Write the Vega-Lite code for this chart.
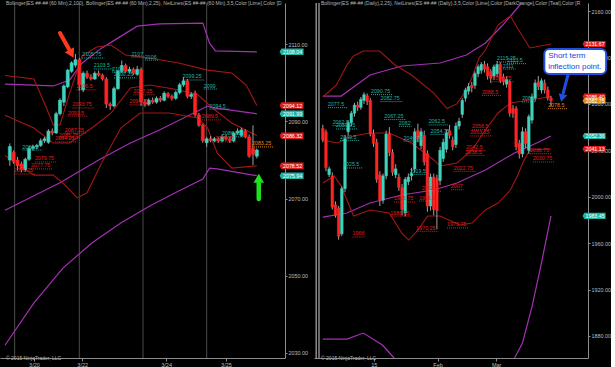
{
"$schema":"https://vega.github.io/schema/vega-lite/v6.json",
"background":"#000000",
"padding":0,
"bounds":"flush",
"spacing":29,
"config":{"view":{"stroke":null},"axis":{"labelFont":"Liberation Sans","labelFontSize":5.4,"labelColor":"#bdbdbd","domainColor":"#8c8c8c","tickColor":"#8c8c8c","tickSize":2,"labelPadding":1,"grid":false,"labelOverlap":false,"labelFlush":false,"labelBound":false},"text":{"font":"Liberation Sans"}},
"datasets":{
"lsess":[{"x":1.25},{"x":18},{"x":34.5},{"x":51}],
"lc":[
{"i":0,"o":2080,"h":2084.3,"l":2078.5,"c":2083.5},{"i":1,"o":2082,"h":2082.5,"l":2079,"c":2079.5},{"i":2,"o":2080,"h":2080.8,"l":2077.3,"c":2078.5},{"i":3,"o":2079,"h":2079.6,"l":2076.8,"c":2077.5},{"i":4,"o":2077.5,"h":2080.6,"l":2077,"c":2080.2},{"i":5,"o":2080.2,"h":2083.6,"l":2079.8,"c":2083},{"i":6,"o":2083,"h":2084,"l":2082.4,"c":2083.5},{"i":7,"o":2083.4,"h":2084.2,"l":2082.8,"c":2083.8},{"i":8,"o":2083.8,"h":2085.6,"l":2083.4,"c":2085},{"i":9,"o":2085,"h":2086,"l":2084.4,"c":2085.5},{"i":10,"o":2084.6,"h":2088,"l":2084.2,"c":2087.5},{"i":11,"o":2087.5,"h":2088.2,"l":2086.4,"c":2087},{"i":12,"o":2087,"h":2092.5,"l":2086.8,"c":2092},{"i":13,"o":2092,"h":2096,"l":2091.5,"c":2095.5},{"i":14,"o":2095,"h":2099.6,"l":2094,"c":2099.2},{"i":15,"o":2099,"h":2103.6,"l":2098.6,"c":2103.3},{"i":16,"o":2103,"h":2105.6,"l":2102.6,"c":2105.2},{"i":17,"o":2104.6,"h":2107.5,"l":2104,"c":2106},{"i":18,"o":2106,"h":2106.5,"l":2098,"c":2099.5},{"i":19,"o":2098.2,"h":2103,"l":2097.6,"c":2102.5},{"i":20,"o":2102.5,"h":2103.2,"l":2101,"c":2101.5},{"i":21,"o":2101.5,"h":2102.2,"l":2100.6,"c":2101},{"i":22,"o":2101,"h":2103,"l":2100.8,"c":2102.5},{"i":23,"o":2102.5,"h":2103.2,"l":2101.6,"c":2102},{"i":24,"o":2102,"h":2102.4,"l":2100.6,"c":2101},{"i":25,"o":2101,"h":2101.5,"l":2093.5,"c":2094.5},{"i":26,"o":2094.5,"h":2095,"l":2093,"c":2094},{"i":27,"o":2094,"h":2099,"l":2093.6,"c":2098.5},{"i":28,"o":2098.5,"h":2103.4,"l":2098.2,"c":2103},{"i":29,"o":2103,"h":2105.8,"l":2102.6,"c":2104.5},{"i":30,"o":2104.5,"h":2105,"l":2102.6,"c":2103},{"i":31,"o":2103,"h":2104.2,"l":2102.4,"c":2103.5},{"i":32,"o":2103.5,"h":2104,"l":2102,"c":2102.5},{"i":33,"o":2102.2,"h":2104.4,"l":2101.8,"c":2103.5},{"i":34,"o":2103.5,"h":2104,"l":2094,"c":2095},{"i":35,"o":2095,"h":2095.8,"l":2093.8,"c":2094.5},{"i":36,"o":2094.5,"h":2096,"l":2094,"c":2095.5},{"i":37,"o":2095.5,"h":2096.2,"l":2094.6,"c":2095},{"i":38,"o":2095,"h":2096.5,"l":2094.6,"c":2096},{"i":39,"o":2096,"h":2096.6,"l":2095,"c":2095.5},{"i":40,"o":2095.5,"h":2097.8,"l":2095.2,"c":2097.3},{"i":41,"o":2097.2,"h":2097.6,"l":2096,"c":2096.5},{"i":42,"o":2096.5,"h":2097,"l":2095.4,"c":2096},{"i":43,"o":2096,"h":2098,"l":2095.6,"c":2097.5},{"i":44,"o":2097.5,"h":2100,"l":2097,"c":2099.5},{"i":45,"o":2099.5,"h":2101.5,"l":2099,"c":2100.5},{"i":46,"o":2100.5,"h":2101,"l":2096,"c":2096.5},{"i":47,"o":2096.5,"h":2097.6,"l":2095.8,"c":2097},{"i":48,"o":2097.4,"h":2098,"l":2091.2,"c":2091.7},{"i":49,"o":2091.7,"h":2092.2,"l":2088.6,"c":2089},{"i":50,"o":2089,"h":2089.4,"l":2084.5,"c":2085},{"i":51,"o":2084.5,"h":2086,"l":2083.4,"c":2085.5},{"i":52,"o":2085.5,"h":2086.2,"l":2084.6,"c":2085},{"i":53,"o":2085,"h":2086,"l":2084.6,"c":2085.5},{"i":54,"o":2085.5,"h":2086,"l":2084.5,"c":2085},{"i":55,"o":2085,"h":2086.6,"l":2084.6,"c":2086},{"i":56,"o":2086,"h":2086.6,"l":2085,"c":2085.5},{"i":57,"o":2085.5,"h":2086,"l":2084.4,"c":2085},{"i":58,"o":2085,"h":2087.4,"l":2084.6,"c":2087},{"i":59,"o":2087,"h":2088.2,"l":2086.6,"c":2087.5},{"i":60,"o":2086.4,"h":2088.4,"l":2086,"c":2087.8},{"i":61,"o":2087.5,"h":2088,"l":2085.6,"c":2086},{"i":62,"o":2086,"h":2086.6,"l":2080.6,"c":2081},{"i":63,"o":2083,"h":2089,"l":2078.7,"c":2081.5},{"i":64,"o":2081,"h":2083,"l":2080.4,"c":2082.6}],
"lbb100":[
{"s":"u","i":-1.25,"p":2099.7},{"s":"u","i":11.25,"p":2099.2},{"s":"u","i":15.5,"p":2100.75},{"s":"u","i":18.75,"p":2105.15},{"s":"u","i":23.75,"p":2109.0},{"s":"u","i":28,"p":2111.6},{"s":"u","i":33,"p":2114.7},{"s":"u","i":38.75,"p":2115.3},{"s":"u","i":50,"p":2115.5},{"s":"u","i":51.75,"p":2110.3},{"s":"u","i":53.25,"p":2108.3},{"s":"u","i":64,"p":2108.04},
{"s":"m","i":-1.25,"p":2067.0},{"s":"m","i":13,"p":2074.1},{"s":"m","i":23,"p":2080.0},{"s":"m","i":31.25,"p":2084.4},{"s":"m","i":38.75,"p":2087.8},{"s":"m","i":51.25,"p":2094.0},{"s":"m","i":53,"p":2093.5},{"s":"m","i":64,"p":2091.99},
{"s":"l","i":-1.25,"p":2032.0},{"s":"l","i":6.25,"p":2043.0},{"s":"l","i":13.75,"p":2052.0},{"s":"l","i":21.25,"p":2058.5},{"s":"l","i":28.75,"p":2063.7},{"s":"l","i":36.25,"p":2068.1},{"s":"l","i":43.75,"p":2072.0},{"s":"l","i":50,"p":2075.1},{"s":"l","i":51.75,"p":2077.9},{"s":"l","i":53.75,"p":2077.7},{"s":"l","i":64,"p":2075.94}],
"lbb25":[
{"s":"u","i":-1.25,"p":2101.9},{"s":"u","i":6.25,"p":2101.0},{"s":"u","i":9.5,"p":2093.5},{"s":"u","i":11.25,"p":2089.1},{"s":"u","i":13,"p":2089.1},{"s":"u","i":15.5,"p":2097.4},{"s":"u","i":18.75,"p":2107.0},{"s":"u","i":22.5,"p":2109.3},{"s":"u","i":26.25,"p":2109.8},{"s":"u","i":30,"p":2107.2},{"s":"u","i":36.25,"p":2106.45},{"s":"u","i":43.75,"p":2105.15},{"s":"u","i":51.25,"p":2103.3},{"s":"u","i":57.5,"p":2102.55},{"s":"u","i":61.25,"p":2099.45},{"s":"u","i":64,"p":2094.12},
{"s":"m","i":-1.25,"p":2091.6},{"s":"m","i":6.25,"p":2088.3},{"s":"m","i":11.25,"p":2084.4},{"s":"m","i":15.5,"p":2084.4},{"s":"m","i":21.25,"p":2088.3},{"s":"m","i":26.25,"p":2092.2},{"s":"m","i":31.25,"p":2098.7},{"s":"m","i":36.25,"p":2099.45},{"s":"m","i":42.5,"p":2098.4},{"s":"m","i":48.75,"p":2096.9},{"s":"m","i":52.5,"p":2093.5},{"s":"m","i":57.5,"p":2089.6},{"s":"m","i":64,"p":2086.32},
{"s":"l","i":-1.25,"p":2081.2},{"s":"l","i":6.25,"p":2076.1},{"s":"l","i":11.25,"p":2076.1},{"s":"l","i":13.75,"p":2074.05},{"s":"l","i":17.5,"p":2070.2},{"s":"l","i":20,"p":2071.5},{"s":"l","i":23.75,"p":2079.2},{"s":"l","i":28.75,"p":2088.3},{"s":"l","i":33.75,"p":2092.2},{"s":"l","i":41.25,"p":2092.2},{"s":"l","i":48.75,"p":2090.9},{"s":"l","i":51.25,"p":2088.3},{"s":"l","i":53.75,"p":2081.8},{"s":"l","i":57.5,"p":2077.9},{"s":"l","i":64,"p":2078.52}],
"llab":[
{"i":18.75,"x2":24.5,"p":2106.45,"t":"2105.75","k":"hi"},{"i":21.75,"x2":27,"p":2103.6,"t":"2103.5","k":"hi"},{"i":26.5,"x2":30,"p":2102.8,"t":"2102","k":"hi"},{"i":27,"x2":32.8,"p":2101.3,"t":"2100.25","k":"hi"},{"i":31.5,"x2":35,"p":2106.7,"t":"2107","k":"hi"},{"i":35,"x2":38.5,"p":2105.9,"t":"2106","k":"hi"},{"i":44.75,"x2":50.5,"p":2100.75,"t":"2099.25","k":"hi"},{"i":50.25,"x2":53.75,"p":2098.4,"t":"2099","k":"hi"},{"i":51.75,"x2":57,"p":2093.2,"t":"2094.5","k":"hi"},{"i":55,"x2":60.75,"p":2086,"t":"2086.25","k":"hi"},{"i":3.25,"x2":8.5,"p":2082.6,"t":"2081.5","k":"hi"},
{"i":17.25,"x2":22.5,"p":2098.2,"t":"2096.5","k":"lo"},{"i":16.25,"x2":22,"p":2093.5,"t":"2093.75","k":"lo"},{"i":15,"x2":20.25,"p":2091.4,"t":"2091.5","k":"lo"},{"i":14.25,"x2":20,"p":2087,"t":"2087.25","k":"lo"},{"i":12.75,"x2":18.5,"p":2085.7,"t":"2085.75","k":"lo"},{"i":11.75,"x2":17.5,"p":2084.7,"t":"2084.25","k":"lo"},{"i":6.5,"x2":12.25,"p":2079.5,"t":"2079.75","k":"lo"},{"i":5.5,"x2":11.25,"p":2077.7,"t":"2077.75","k":"lo"},{"i":1,"x2":6.75,"p":2076.4,"t":"2076.25","k":"lo"},{"i":32,"x2":37.75,"p":2096.9,"t":"2097.25","k":"lo"},{"i":31,"x2":36.75,"p":2094.3,"t":"2094.25","k":"lo"},{"i":49.75,"x2":55,"p":2090.4,"t":"2089.5","k":"lo"},{"i":53.25,"x2":59,"p":2084.7,"t":"2083.75","k":"lo"},{"i":62.75,"x2":68.5,"p":2083.4,"t":"2083.25","k":"last"}],
"ltags":[{"p":2108.04,"t":"2108.04","k":"bb100"},{"p":2094.12,"t":"2094.12","k":"bb25"},{"p":2091.99,"t":"2091.99","k":"bb100"},{"p":2086.32,"t":"2086.32","k":"bb25"},{"p":2078.52,"t":"2078.52","k":"bb25"},{"p":2075.94,"t":"2075.94","k":"bb100"}],
"rc":[
{"i":0,"o":2059,"h":2062,"l":2047,"c":2049},{"i":1,"o":2056,"h":2058,"l":2022,"c":2025},{"i":2,"o":2019,"h":2026,"l":2017,"c":2024},{"i":3,"o":2018,"h":2021,"l":1989,"c":1991},{"i":4,"o":1993,"h":1996,"l":1982,"c":1984},{"i":5,"o":1990,"h":1992,"l":1963,"c":1966},{"i":6,"o":1968,"h":2009,"l":1966,"c":2007},{"i":7,"o":2007,"h":2053,"l":2004,"c":2050},{"i":8,"o":2056,"h":2066,"l":2053,"c":2064},{"i":9,"o":2064,"h":2074,"l":2061,"c":2072},{"i":10,"o":2072,"h":2081,"l":2069,"c":2079},{"i":11,"o":2079,"h":2082,"l":2074,"c":2077},{"i":12,"o":2077,"h":2086,"l":2075,"c":2084},{"i":13,"o":2083,"h":2090,"l":2080,"c":2088},{"i":14,"o":2087,"h":2089,"l":2079,"c":2082},{"i":15,"o":2083,"h":2085,"l":2052,"c":2054},{"i":16,"o":2054,"h":2058,"l":2043,"c":2046},{"i":17,"o":2047,"h":2050,"l":2012,"c":2015},{"i":18,"o":2019,"h":2022,"l":1992,"c":1997},{"i":19,"o":1997,"h":2020,"l":1994,"c":2018},{"i":20,"o":2018,"h":2057,"l":2015,"c":2054},{"i":21,"o":2054,"h":2060,"l":2035,"c":2038},{"i":22,"o":2038,"h":2041,"l":2018,"c":2021},{"i":23,"o":2019,"h":2028,"l":2016,"c":2024},{"i":24,"o":2017,"h":2020,"l":2005,"c":2008},{"i":25,"o":2008,"h":2011,"l":1984,"c":1989},{"i":26,"o":1986,"h":2017,"l":1983,"c":2015},{"i":27,"o":2013,"h":2020,"l":2010,"c":2017},{"i":28,"o":2018,"h":2025,"l":2014,"c":2020},{"i":29,"o":2024,"h":2059,"l":2021,"c":2056},{"i":30,"o":2057,"h":2063,"l":2047,"c":2050},{"i":31,"o":2044,"h":2059,"l":2041,"c":2056},{"i":32,"o":2053,"h":2057,"l":2027,"c":2030},{"i":33,"o":2037,"h":2040,"l":1987,"c":1992},{"i":34,"o":1992,"h":2020,"l":1988,"c":2017},{"i":35,"o":2017,"h":2020,"l":1984,"c":1989},{"i":36,"o":2016,"h":2019,"l":1972,"c":1988},{"i":37,"o":2014,"h":2043,"l":2010,"c":2040},{"i":38,"o":2033,"h":2050,"l":2030,"c":2047},{"i":39,"o":2041,"h":2058,"l":2038,"c":2055},{"i":40,"o":2057,"h":2062,"l":2050,"c":2053},{"i":41,"o":2049,"h":2052,"l":2040,"c":2043},{"i":42,"o":2045,"h":2064,"l":2042,"c":2061},{"i":43,"o":2061,"h":2068,"l":2058,"c":2065},{"i":44,"o":2071,"h":2085,"l":2068,"c":2083},{"i":45,"o":2085,"h":2094,"l":2082,"c":2092},{"i":46,"o":2091,"h":2098,"l":2088,"c":2095},{"i":47,"o":2096,"h":2099,"l":2090,"c":2094},{"i":48,"o":2096,"h":2108,"l":2093,"c":2106},{"i":49,"o":2106,"h":2114,"l":2103,"c":2112},{"i":50,"o":2109,"h":2116,"l":2106,"c":2114},{"i":51,"o":2114,"h":2117,"l":2107,"c":2110},{"i":52,"o":2112,"h":2115,"l":2101,"c":2104},{"i":53,"o":2108,"h":2110,"l":2098,"c":2102},{"i":54,"o":2104,"h":2114,"l":2101,"c":2112},{"i":55,"o":2106,"h":2117,"l":2103,"c":2114},{"i":56,"o":2114,"h":2116,"l":2098,"c":2100},{"i":57,"o":2103,"h":2106,"l":2096,"c":2099},{"i":58,"o":2097,"h":2104,"l":2094,"c":2101},{"i":59,"o":2099,"h":2101,"l":2069,"c":2072},{"i":60,"o":2076,"h":2079,"l":2068,"c":2072},{"i":61,"o":2076,"h":2078,"l":2040,"c":2043},{"i":62,"o":2046,"h":2049,"l":2033,"c":2037},{"i":63,"o":2037,"h":2060,"l":2034,"c":2056},{"i":64,"o":2056,"h":2059,"l":2042,"c":2046},{"i":65,"o":2040,"h":2071,"l":2037,"c":2069},{"i":66,"o":2066,"h":2089,"l":2063,"c":2086},{"i":67,"o":2085,"h":2101,"l":2082,"c":2098},{"i":68,"o":2099,"h":2104,"l":2092,"c":2095},{"i":69,"o":2092,"h":2102,"l":2089,"c":2100},{"i":70,"o":2098,"h":2101,"l":2089,"c":2092},{"i":71,"o":2092,"h":2095,"l":2083,"c":2085},{"i":72,"o":2085,"h":2087,"l":2078,"c":2082.75}],
"rbb25":[
{"s":"u","i":0,"p":2086},{"s":"u","i":4.3,"p":2096.3},{"s":"u","i":7.6,"p":2113.6},{"s":"u","i":9.7,"p":2121.3},{"s":"u","i":12.8,"p":2125.6},{"s":"u","i":17.9,"p":2125.6},{"s":"u","i":22.8,"p":2113.6},{"s":"u","i":28,"p":2104.9},{"s":"u","i":35,"p":2089.4},{"s":"u","i":39.2,"p":2076},{"s":"u","i":42.3,"p":2080},{"s":"u","i":45.3,"p":2092},{"s":"u","i":47.1,"p":2103},{"s":"u","i":49.3,"p":2119.6},{"s":"u","i":51.3,"p":2126.5},{"s":"u","i":55.3,"p":2148},{"s":"u","i":59.2,"p":2155.8},{"s":"u","i":61.4,"p":2145.4},{"s":"u","i":65.3,"p":2128.2},{"s":"u","i":72,"p":2131.67},
{"s":"m","i":0,"p":2048.9},{"s":"m","i":4.6,"p":2046.3},{"s":"m","i":9.7,"p":2052.3},{"s":"m","i":14.9,"p":2054.9},{"s":"m","i":21,"p":2054.9},{"s":"m","i":28,"p":2046.3},{"s":"m","i":35,"p":2031.7},{"s":"m","i":37,"p":2026.5},{"s":"m","i":42.3,"p":2029.1},{"s":"m","i":47.1,"p":2040.3},{"s":"m","i":51.3,"p":2057.5},{"s":"m","i":55.3,"p":2072.2},{"s":"m","i":59.2,"p":2080.8},{"s":"m","i":65.3,"p":2083.4},{"s":"m","i":72,"p":2086.4},
{"s":"l","i":0,"p":2011.8},{"s":"l","i":3.6,"p":2017.9},{"s":"l","i":5.8,"p":2009.2},{"s":"l","i":9.7,"p":1983.4},{"s":"l","i":14.9,"p":1988.6},{"s":"l","i":21,"p":1986},{"s":"l","i":24.9,"p":1968.7},{"s":"l","i":27.1,"p":1962.7},{"s":"l","i":30,"p":1971.3},{"s":"l","i":33.1,"p":1983.4},{"s":"l","i":37,"p":1983.4},{"s":"l","i":43.2,"p":1975.6},{"s":"l","i":47.1,"p":1977.3},{"s":"l","i":51.3,"p":1988.6},{"s":"l","i":55.3,"p":1994.6},{"s":"l","i":59.2,"p":2005.8},{"s":"l","i":61.4,"p":2017.9},{"s":"l","i":63.5,"p":2031.7},{"s":"l","i":65.3,"p":2040.3},{"s":"l","i":72,"p":2041.13}],
"rbb100":[
{"s":"u","i":0,"p":2086.8},{"s":"u","i":5.8,"p":2086.8},{"s":"u","i":14.9,"p":2104.9},{"s":"u","i":24.9,"p":2112.7},{"s":"u","i":37,"p":2115.3},{"s":"u","i":45.3,"p":2122.2},{"s":"u","i":51.3,"p":2132.5},{"s":"u","i":56.8,"p":2148},{"s":"u","i":61.4,"p":2162.7},{"s":"u","i":62.7,"p":2167},
{"s":"m","i":0,"p":1982.5},{"s":"m","i":7.6,"p":1986},{"s":"m","i":14.9,"p":1994.6},{"s":"m","i":24.9,"p":2001.5},{"s":"m","i":35,"p":2005.8},{"s":"m","i":42.3,"p":2011.8},{"s":"m","i":51.3,"p":2023},{"s":"m","i":60.5,"p":2037.7},{"s":"m","i":67.5,"p":2046.3},{"s":"m","i":72,"p":2052.36},
{"s":"l1","i":0,"p":1877.3},{"s":"l1","i":7.6,"p":1877.3},{"s":"l1","i":12.8,"p":1882.5},{"s":"l1","i":18.8,"p":1872.2},{"s":"l1","i":22.5,"p":1861},
{"s":"l2","i":60.5,"p":1861},{"s":"l2","i":63,"p":1874},{"s":"l2","i":66,"p":1905},{"s":"l2","i":69,"p":1943},{"s":"l2","i":72,"p":1983.45}],
"rlab":[
{"i":1.6,"x2":8,"p":2076.8,"t":"2077.5","k":"hi"},{"i":15.2,"x2":22.2,"p":2088,"t":"2090.75","k":"hi"},{"i":18.2,"x2":25.2,"p":2082,"t":"2082.75","k":"hi"},{"i":19.4,"x2":26.4,"p":2066.5,"t":"2067.25","k":"hi"},{"i":24,"x2":28,"p":2060.7,"t":"2062","k":"hi"},{"i":3.1,"x2":9.1,"p":2061.3,"t":"2062.5","k":"hi"},{"i":4.2,"x2":11.2,"p":2058.4,"t":"2059.25","k":"hi"},{"i":33.4,"x2":39.4,"p":2061.9,"t":"2062.5","k":"hi"},{"i":34,"x2":41,"p":2053.8,"t":"2054.75","k":"hi"},{"i":25.5,"x2":32.5,"p":2048,"t":"2046.75","k":"hi"},{"i":5.5,"x2":11.5,"p":2048.6,"t":"2049.5","k":"hi"},{"i":6.4,"x2":12.4,"p":2024.8,"t":"2025.5","k":"hi"},{"i":27.4,"x2":33.4,"p":2019.3,"t":"2019.5","k":"hi"},{"i":55,"x2":62,"p":2116.2,"t":"2115.25","k":"hi"},{"i":58.1,"x2":64.1,"p":2114.7,"t":"2113.5","k":"hi"},{"i":56.8,"x2":60.8,"p":2110.1,"t":"2111","k":"hi"},{"i":62.9,"x2":66.9,"p":2081.7,"t":"2082","k":"hi"},
{"i":50.2,"x2":56.2,"p":2087.4,"t":"2088.5","k":"lo"},{"i":53.5,"x2":60.5,"p":2099.2,"t":"2099.75","k":"lo"},{"i":47.1,"x2":53.1,"p":2057.8,"t":"2058.5","k":"lo"},{"i":46.5,"x2":53.5,"p":2052.4,"t":"2053.25","k":"lo"},{"i":45.3,"x2":51.3,"p":2039.7,"t":"2042.5","k":"lo"},{"i":45,"x2":51,"p":2035.7,"t":"2038.5","k":"lo"},{"i":41.3,"x2":48.3,"p":2021.9,"t":"2022.75","k":"lo"},{"i":40.4,"x2":44.4,"p":2006.1,"t":"2007","k":"lo"},{"i":31.3,"x2":37.3,"p":2004.7,"t":"2002.5","k":"lo"},{"i":22.5,"x2":29.5,"p":1995.5,"t":"1993.75","k":"lo"},{"i":30.4,"x2":36.4,"p":1996.3,"t":"1993.5","k":"lo"},{"i":21.3,"x2":28.3,"p":1983.4,"t":"1986.25","k":"lo"},{"i":29.5,"x2":36.5,"p":1970.2,"t":"1970.25","k":"lo"},{"i":39.2,"x2":46.2,"p":1973.1,"t":"1973.75","k":"lo"},{"i":9.4,"x2":13.4,"p":1965.3,"t":"1966","k":"lo"},{"i":65.3,"x2":72.3,"p":2037.1,"t":"2036.75","k":"lo"},{"i":66.3,"x2":73.3,"p":2030,"t":"2030.75","k":"lo"},
{"i":71.1,"x2":77.1,"p":2075.9,"t":"2078.5","k":"last"}],
"rtags":[{"p":2131.67,"t":"2131.67","k":"bb25"},{"p":2086.4,"t":"2086.40","k":"bb25"},{"p":2082.75,"t":"2082.75","k":"last"},{"p":2052.36,"t":"2052.36","k":"bb100"},{"p":2041.13,"t":"2041.13","k":"bb25"},{"p":1983.45,"t":"1983.45","k":"bb100"}]
},
"hconcat":[
{
"width":285,"height":355,
"layer":[
{"data":{"name":"lsess"},"mark":{"type":"rule","color":"#4d4d4d","strokeWidth":1},
 "encoding":{"x":{"field":"x","type":"quantitative","scale":{"domain":[-1.25,70],"nice":false,"zero":false},
  "axis":{"values":[6.25,18.75,40.5,56],"labelExpr":"datum.value==6.25?'3/20':datum.value==18.75?'3/22':datum.value==40.5?'3/24':'3/25'","title":null,"labelFontSize":5.5,"tickSize":3,"labelOverlap":false}}}},
{"data":{"name":"lbb100"},"mark":{"type":"line","color":"#a52fb5","strokeWidth":1.2},
 "encoding":{"x":{"field":"i","type":"quantitative","scale":{"domain":[-1.25,70],"nice":false,"zero":false}},
  "y":{"field":"p","type":"quantitative","scale":{"domain":[2028.7,2120.7],"nice":false,"zero":false},
   "axis":{"orient":"right","values":[2030,2035,2040,2045,2050,2055,2060,2065,2070,2075,2080,2085,2090,2095,2100,2105,2110,2115,2120],"format":".2f","title":null,"labelOverlap":false,"labelFlush":false,"labelBound":false}},
  "detail":{"field":"s"}}},
{"data":{"name":"lbb25"},"mark":{"type":"line","color":"#a31616","strokeWidth":1.1},
 "encoding":{"x":{"field":"i","type":"quantitative","scale":{"domain":[-1.25,70],"nice":false,"zero":false}},
  "y":{"field":"p","type":"quantitative","scale":{"domain":[2028.7,2120.7],"nice":false,"zero":false}},
  "detail":{"field":"s"}}},
{"data":{"name":"llab"},"mark":{"type":"rule","strokeDash":[1,1],"strokeWidth":1},
 "encoding":{"x":{"field":"i","type":"quantitative","scale":{"domain":[-1.25,70],"nice":false,"zero":false}},"x2":{"field":"x2"},
  "y":{"field":"p","type":"quantitative","scale":{"domain":[2028.7,2120.7],"nice":false,"zero":false}},
  "color":{"field":"k","type":"nominal","scale":{"domain":["hi","lo","last"],"range":["#1fb3a3","#e01c1c","#e08a1a"]},"legend":null}}},
{"data":{"name":"lc"},"mark":{"type":"rule","color":"#a0a0a0","strokeWidth":1},
 "encoding":{"x":{"field":"i","type":"quantitative","scale":{"domain":[-1.25,70],"nice":false,"zero":false}},
  "y":{"field":"l","type":"quantitative","scale":{"domain":[2028.7,2120.7],"nice":false,"zero":false}},"y2":{"field":"h"}}},
{"data":{"name":"lc"},"mark":{"type":"bar","size":3,"strokeWidth":0.6},
 "encoding":{"x":{"field":"i","type":"quantitative","scale":{"domain":[-1.25,70],"nice":false,"zero":false}},
  "y":{"field":"o","type":"quantitative","scale":{"domain":[2028.7,2120.7],"nice":false,"zero":false}},"y2":{"field":"c"},
  "color":{"condition":{"test":"datum.c >= datum.o","value":"#3fd3bd"},"value":"#ff2424"},
  "stroke":{"condition":{"test":"datum.c >= datum.o","value":"#3fd3bd"},"value":"#ff2424"}}},
{"data":{"name":"llab"},"mark":{"type":"text","align":"left","baseline":"bottom","fontSize":5.3,"dy":-0.5},
 "encoding":{"x":{"field":"i","type":"quantitative","scale":{"domain":[-1.25,70],"nice":false,"zero":false}},
  "y":{"field":"p","type":"quantitative","scale":{"domain":[2028.7,2120.7],"nice":false,"zero":false}},
  "text":{"field":"t"},
  "color":{"field":"k","type":"nominal","scale":{"domain":["hi","lo","last"],"range":["#22bfae","#e8201e","#e8921c"]},"legend":null}}},
{"data":{"name":"ltags"},"mark":{"type":"point","shape":"M-1,0L-0.85,-0.27H1V0.27H-0.85Z","size":576,"filled":true,"opacity":1,"strokeWidth":0},
 "encoding":{"x":{"datum":73,"type":"quantitative","scale":{"domain":[-1.25,70],"nice":false,"zero":false}},
  "y":{"field":"p","type":"quantitative","scale":{"domain":[2028.7,2120.7],"nice":false,"zero":false}},
  "color":{"field":"k","type":"nominal","scale":{"domain":["bb100","bb25","last"],"range":["#f21cf2","#f42020","#202020"]},"legend":null}}},
{"data":{"name":"ltags"},"mark":{"type":"text","align":"center","baseline":"middle","fontSize":5.3,"color":"#ffffff","dx":1},
 "encoding":{"x":{"datum":73,"type":"quantitative","scale":{"domain":[-1.25,70],"nice":false,"zero":false}},
  "y":{"field":"p","type":"quantitative","scale":{"domain":[2028.7,2120.7],"nice":false,"zero":false}},
  "text":{"field":"t"}}},
{"data":{"values":[{"x":13,"p":2112.9,"x2":15.3,"p2":2108.8}]},"mark":{"type":"rule","color":"#ff3a1c","strokeWidth":4,"strokeCap":"round"},
 "encoding":{"x":{"field":"x","type":"quantitative","scale":{"domain":[-1.25,70],"nice":false,"zero":false}},"x2":{"field":"x2"},
  "y":{"field":"p","type":"quantitative","scale":{"domain":[2028.7,2120.7],"nice":false,"zero":false}},"y2":{"field":"p2"}}},
{"data":{"values":[{"x":15.8,"p":2107.9}]},"mark":{"type":"point","shape":"triangle","angle":152,"size":110,"filled":true,"opacity":1,"color":"#ff3a1c"},
 "encoding":{"x":{"field":"x","type":"quantitative","scale":{"domain":[-1.25,70],"nice":false,"zero":false}},
  "y":{"field":"p","type":"quantitative","scale":{"domain":[2028.7,2120.7],"nice":false,"zero":false}}}},
{"data":{"values":[{"x":64.5,"p":2069.9,"p2":2074.0}]},"mark":{"type":"rule","color":"#1fe01f","strokeWidth":4.5,"strokeCap":"round"},
 "encoding":{"x":{"field":"x","type":"quantitative","scale":{"domain":[-1.25,70],"nice":false,"zero":false}},
  "y":{"field":"p","type":"quantitative","scale":{"domain":[2028.7,2120.7],"nice":false,"zero":false}},"y2":{"field":"p2"}}},
{"data":{"values":[{"x":64.5,"p":2074.9}]},"mark":{"type":"point","shape":"triangle","angle":0,"size":110,"filled":true,"opacity":1,"color":"#1fe01f"},
 "encoding":{"x":{"field":"x","type":"quantitative","scale":{"domain":[-1.25,70],"nice":false,"zero":false}},
  "y":{"field":"p","type":"quantitative","scale":{"domain":[2028.7,2120.7],"nice":false,"zero":false}}}},
{"data":{"values":[{"x":-1.25,"p":2120.7,"t":"Bollinger(ES ##-## (60 Min),2,100), Bollinger(ES ##-## (60 Min),2,25), NetLines(ES ##-## (60 Min),3,5,Color [Lime],Color [D"},{"x":-1.25,"p":2028.7,"t":"© 2015 NinjaTrader, LLC"}]},
 "mark":{"type":"text","align":"left","fontSize":5,"color":"#b4b4b4","dx":1},
 "encoding":{"x":{"field":"x","type":"quantitative","scale":{"domain":[-1.25,70],"nice":false,"zero":false}},
  "y":{"field":"p","type":"quantitative","scale":{"domain":[2028.7,2120.7],"nice":false,"zero":false}},
  "baseline":{"condition":{"test":"datum.p > 2100","value":"top"},"value":"bottom"},
  "text":{"field":"t"}}}
]},
{
"width":274,"height":355,
"layer":[
{"data":{"values":[{"x":-1.2},{"x":-2.1}]},"mark":{"type":"rule","color":"#d0d0d0","strokeWidth":1},
 "encoding":{"x":{"field":"x","type":"quantitative","scale":{"domain":[-1.2,82.1],"nice":false,"zero":false},
  "axis":{"values":[16.1,36.2,54.7],"labelExpr":"datum.value<20?'15':datum.value<40?'Feb':'Mar'","title":null,"labelFontSize":5.5,"tickSize":3,"labelOverlap":false}}}},
{"data":{"name":"rbb100"},"mark":{"type":"line","color":"#a52fb5","strokeWidth":1.2},
 "encoding":{"x":{"field":"i","type":"quantitative","scale":{"domain":[-1.2,82.1],"nice":false,"zero":false}},
  "y":{"field":"p","type":"quantitative","scale":{"domain":[1861,2167],"nice":false,"zero":false},
   "axis":{"orient":"right","values":[1880,1900,1920,1940,1960,1980,2000,2020,2040,2060,2080,2100,2120,2140,2160],"format":".2f","title":null,"labelOverlap":false,"labelFlush":false,"labelBound":false}},
  "detail":{"field":"s"}}},
{"data":{"name":"rbb25"},"mark":{"type":"line","color":"#a31616","strokeWidth":1.1},
 "encoding":{"x":{"field":"i","type":"quantitative","scale":{"domain":[-1.2,82.1],"nice":false,"zero":false}},
  "y":{"field":"p","type":"quantitative","scale":{"domain":[1861,2167],"nice":false,"zero":false}},
  "detail":{"field":"s"}}},
{"data":{"name":"rlab"},"mark":{"type":"rule","strokeDash":[1,1],"strokeWidth":1},
 "encoding":{"x":{"field":"i","type":"quantitative","scale":{"domain":[-1.2,82.1],"nice":false,"zero":false}},"x2":{"field":"x2"},
  "y":{"field":"p","type":"quantitative","scale":{"domain":[1861,2167],"nice":false,"zero":false}},
  "color":{"field":"k","type":"nominal","scale":{"domain":["hi","lo","last"],"range":["#1fb3a3","#e01c1c","#e08a1a"]},"legend":null}}},
{"data":{"name":"rc"},"mark":{"type":"rule","color":"#a0a0a0","strokeWidth":1},
 "encoding":{"x":{"field":"i","type":"quantitative","scale":{"domain":[-1.2,82.1],"nice":false,"zero":false}},
  "y":{"field":"l","type":"quantitative","scale":{"domain":[1861,2167],"nice":false,"zero":false}},"y2":{"field":"h"}}},
{"data":{"name":"rc"},"mark":{"type":"bar","size":2.6,"strokeWidth":0.5},
 "encoding":{"x":{"field":"i","type":"quantitative","scale":{"domain":[-1.2,82.1],"nice":false,"zero":false}},
  "y":{"field":"o","type":"quantitative","scale":{"domain":[1861,2167],"nice":false,"zero":false}},"y2":{"field":"c"},
  "color":{"condition":{"test":"datum.c >= datum.o","value":"#3fd3bd"},"value":"#ff2424"},
  "stroke":{"condition":{"test":"datum.c >= datum.o","value":"#3fd3bd"},"value":"#ff2424"}}},
{"data":{"name":"rlab"},"mark":{"type":"text","align":"left","baseline":"bottom","fontSize":5.3,"dy":-0.5},
 "encoding":{"x":{"field":"i","type":"quantitative","scale":{"domain":[-1.2,82.1],"nice":false,"zero":false}},
  "y":{"field":"p","type":"quantitative","scale":{"domain":[1861,2167],"nice":false,"zero":false}},
  "text":{"field":"t"},
  "color":{"field":"k","type":"nominal","scale":{"domain":["hi","lo","last"],"range":["#22bfae","#e8201e","#e8921c"]},"legend":null}}},
{"data":{"name":"rtags"},"mark":{"type":"point","shape":"M-1,0L-0.85,-0.27H1V0.27H-0.85Z","size":529,"filled":true,"opacity":1,"strokeWidth":0},
 "encoding":{"x":{"datum":85.6,"type":"quantitative","scale":{"domain":[-1.2,82.1],"nice":false,"zero":false}},
  "y":{"field":"p","type":"quantitative","scale":{"domain":[1861,2167],"nice":false,"zero":false}},
  "color":{"field":"k","type":"nominal","scale":{"domain":["bb100","bb25","last"],"range":["#f21cf2","#f42020","#202020"]},"legend":null}}},
{"data":{"name":"rtags"},"mark":{"type":"text","align":"center","baseline":"middle","fontSize":5.3,"color":"#ffffff","dx":1},
 "encoding":{"x":{"datum":85.6,"type":"quantitative","scale":{"domain":[-1.2,82.1],"nice":false,"zero":false}},
  "y":{"field":"p","type":"quantitative","scale":{"domain":[1861,2167],"nice":false,"zero":false}},
  "text":{"field":"t"}}},
{"data":{"values":[{"x":78.1,"p":2112.7,"x2":75.85,"p2":2089.4}]},"mark":{"type":"rule","color":"#1f4fe0","strokeWidth":3,"strokeCap":"round"},
 "encoding":{"x":{"field":"x","type":"quantitative","scale":{"domain":[-1.2,82.1],"nice":false,"zero":false}},"x2":{"field":"x2"},
  "y":{"field":"p","type":"quantitative","scale":{"domain":[1861,2167],"nice":false,"zero":false}},"y2":{"field":"p2"}}},
{"data":{"values":[{"x":75.6,"p":2086.2}]},"mark":{"type":"point","shape":"triangle","angle":194,"size":80,"filled":true,"opacity":1,"color":"#1f4fe0"},
 "encoding":{"x":{"field":"x","type":"quantitative","scale":{"domain":[-1.2,82.1],"nice":false,"zero":false}},
  "y":{"field":"p","type":"quantitative","scale":{"domain":[1861,2167],"nice":false,"zero":false}}}},
{"data":{"values":[{"x":69.9,"x2":89.4,"p":2127.3,"p2":2105.8}]},"mark":{"type":"rect","fill":"#ffffff","stroke":"#2050e0","strokeWidth":2,"cornerRadius":5},
 "encoding":{"x":{"field":"x","type":"quantitative","scale":{"domain":[-1.2,82.1],"nice":false,"zero":false}},"x2":{"field":"x2"},
  "y":{"field":"p","type":"quantitative","scale":{"domain":[1861,2167],"nice":false,"zero":false}},"y2":{"field":"p2"}}},
{"data":{"values":[{"x":71.1,"p":2121.3,"t":"Short term"},{"x":71.1,"p":2111.8,"t":"inflection point."}]},"mark":{"type":"text","align":"left","baseline":"middle","fontSize":8,"color":"#1a46d8"},
 "encoding":{"x":{"field":"x","type":"quantitative","scale":{"domain":[-1.2,82.1],"nice":false,"zero":false}},
  "y":{"field":"p","type":"quantitative","scale":{"domain":[1861,2167],"nice":false,"zero":false}},
  "text":{"field":"t"}}},
{"data":{"values":[{"x":-1.2,"p":2167,"t":"Bollinger(ES ##-## (Daily),2,25), NetLines(ES ##-## (Daily),3,5,Color [Lime],Color [DarkOrange],Color [Teal],Color [R"},{"x":-1.2,"p":1861,"t":"© 2015 NinjaTrader, LLC"}]},
 "mark":{"type":"text","align":"left","fontSize":5,"color":"#b4b4b4","dx":2},
 "encoding":{"x":{"field":"x","type":"quantitative","scale":{"domain":[-1.2,82.1],"nice":false,"zero":false}},
  "y":{"field":"p","type":"quantitative","scale":{"domain":[1861,2167],"nice":false,"zero":false}},
  "baseline":{"condition":{"test":"datum.p > 2100","value":"top"},"value":"bottom"},
  "text":{"field":"t"}}}
]}
]
}
